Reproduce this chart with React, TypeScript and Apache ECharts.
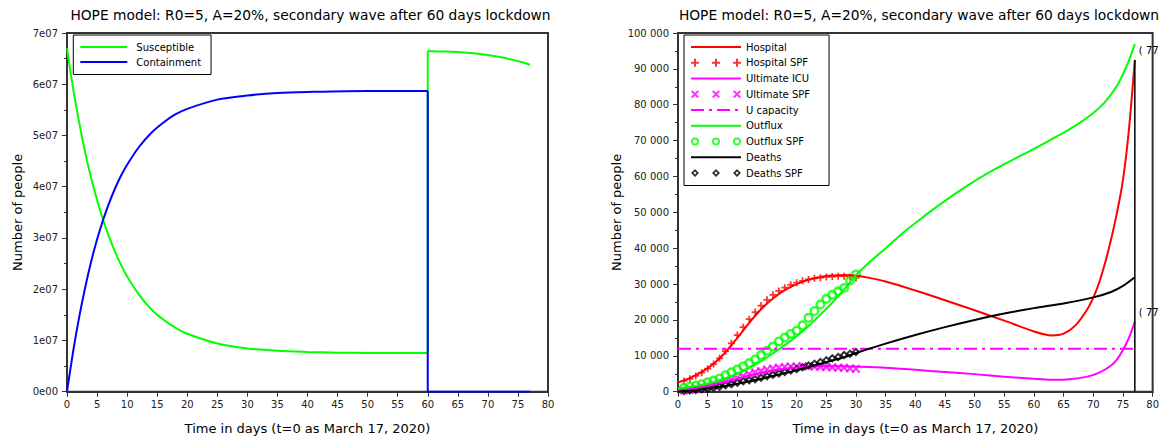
import React, { useEffect, useRef } from 'react';
import * as echarts from 'echarts';

const FONT = "'DejaVu Sans', sans-serif";
const TITLE = 'HOPE model: R0=5, A=20%, secondary wave after 60 days lockdown';
const X_NAME = 'Time in days (t=0 as March 17, 2020)';
const Y_NAME = 'Number of people';
const END_TIP = '( 77';

// ---------- left chart (values in millions of people) ----------
const susDaysA = [0, 1, 2, 3, 4, 5, 6, 7, 8, 9, 10, 12, 14, 16, 18, 20, 25, 30, 35, 40, 45, 50, 55, 60];
const susValsA = [67.0, 59.3, 52.7, 46.8, 41.8, 37.4, 33.5, 30.2, 27.3, 24.7, 22.5, 18.9, 16.1, 14.1, 12.5, 11.3, 9.4, 8.45, 7.98, 7.76, 7.62, 7.57, 7.55, 7.53];
const susDaysB = [60, 62, 64, 66, 68, 70, 72, 74, 76, 77];
const susValsB = [66.5, 66.4, 66.35, 66.2, 66.0, 65.7, 65.3, 64.8, 64.2, 63.8];
const conDaysA = [0, 1, 2, 3, 4, 5, 6, 7, 8, 9, 10, 12, 14, 16, 18, 20, 25, 30, 35, 40, 50, 60];
const conValsA = [0, 7.7, 14.4, 20.2, 25.3, 29.7, 33.5, 36.8, 39.7, 42.2, 44.3, 47.8, 50.5, 52.5, 54.1, 55.2, 57.0, 57.8, 58.3, 58.5, 58.7, 58.7];
const conDaysB = [60, 77];
const conValsB = [0, 0];
const switchDay = 60;

// ---------- right chart ----------
const hospDays = [0, 2, 4, 6, 8, 10, 12, 14, 16, 18, 20, 22, 24, 26, 28, 30, 32, 35, 40, 45, 50, 55, 60, 63, 65, 67, 69, 70, 71, 72, 73, 74, 75, 76, 77];
const hospVals = [2600, 3800, 5500, 7800, 11000, 15000, 19200, 23000, 26000, 28300, 30000, 31200, 32000, 32400, 32500, 32300, 31800, 30700, 28200, 25500, 22700, 19800, 16800, 15700, 16200, 18500, 23000, 26200, 30500, 36000, 42500, 50000, 59000, 73000, 92500];

const spfDays = [1, 2, 3, 4, 5, 6, 7, 8, 9, 10, 11, 12, 13, 14, 15, 16, 17, 18, 19, 20, 21, 22, 23, 24, 25, 26, 27, 28, 29, 30];
const hospSpf = [3000, 3600, 4400, 5300, 6400, 7700, 9300, 11300, 13500, 15800, 18000, 20200, 22200, 24000, 25600, 27000, 28100, 29000, 29800, 30400, 30900, 31300, 31600, 31800, 32000, 32100, 32200, 32200, 32000, 31700];

const icuDays = [0, 3, 6, 9, 12, 15, 18, 21, 24, 27, 30, 35, 40, 45, 50, 55, 60, 63, 66, 69, 71, 73, 74, 75, 76, 77];
const icuVals = [400, 1000, 2000, 3200, 4500, 5600, 6400, 6900, 7100, 7100, 7000, 6700, 6100, 5500, 4900, 4200, 3600, 3350, 3500, 4200, 5300, 7300, 9000, 11600, 15000, 19500];
const icuSpf = [300, 500, 800, 1100, 1500, 1900, 2400, 2900, 3400, 3900, 4400, 4900, 5400, 5800, 6200, 6500, 6700, 6900, 7000, 7000, 7100, 7000, 7000, 6900, 6900, 6800, 6700, 6700, 6500, 6400];

const capDays = [0, 77];
const capVals = [12000, 12000];

const outDays = [0, 2, 4, 6, 8, 10, 12, 14, 16, 18, 20, 22, 24, 26, 28, 30, 32, 35, 38, 41, 44, 48, 52, 56, 60, 64, 67, 70, 72, 74, 75, 76, 77];
const outVals = [900, 1300, 1900, 2700, 3800, 5000, 6600, 8500, 10700, 13000, 15500, 18300, 21500, 24800, 28500, 32500, 35700, 40000, 44400, 48300, 52000, 56600, 60700, 64300, 67700, 71300, 74200, 77700, 80800, 85300, 88500, 92300, 96900];
const outSpf = [1100, 1400, 1700, 2100, 2600, 3100, 3700, 4600, 5400, 6200, 7100, 8000, 9000, 10200, 11400, 12600, 14000, 15100, 16100, 17000, 18500, 20600, 22500, 24300, 25900, 27000, 28000, 28900, 31000, 32700];

const deathDays = [0, 2, 4, 6, 8, 10, 12, 14, 16, 18, 20, 22, 24, 26, 28, 30, 35, 40, 45, 50, 55, 60, 65, 70, 73, 75, 77];
const deathVals = [0, 300, 650, 1100, 1600, 2200, 2900, 3600, 4400, 5200, 6000, 6900, 7800, 8700, 9600, 10800, 13400, 15800, 18000, 20000, 21800, 23300, 24600, 26300, 27800, 29500, 31900];
const deathSpf = [200, 350, 500, 650, 850, 1100, 1400, 1800, 2100, 2500, 2900, 3200, 3500, 3900, 4300, 4700, 5100, 5500, 5900, 6300, 6800, 7300, 7800, 8300, 8800, 9300, 9700, 10200, 10600, 11100];

const zip = (xs: number[], ys: number[], k = 1) => xs.map((x, i) => [x, ys[i] * k]);

// symbol shapes
const PLUS = 'path://M3,0H5V3H8V5H5V8H3V5H0V3H3Z';
const CROSS = 'path://M0,1.4L1.4,0L4,2.6L6.6,0L8,1.4L5.4,4L8,6.6L6.6,8L4,5.4L1.4,8L0,6.6L2.6,4Z';
const RING = 'path://M0,4a4,4 0 1,0 8,0a4,4 0 1,0 -8,0Z M1.9,4a2.1,2.1 0 1,1 4.2,0a2.1,2.1 0 1,1 -4.2,0Z';
const DIAM = 'path://M4,0L8,4L4,8L0,4Z M4,2.5L2.5,4L4,5.5L5.5,4Z';
const tri = (f: (o: number) => string) => 'path://' + [0, 21, 42].map(f).join(' ');
const PLUS3 = tri(o => `M${o + 3},0H${o + 5}V3H${o + 8}V5H${o + 5}V8H${o + 3}V5H${o}V3H${o + 3}Z`);
const CROSS3 = tri(o => `M${o},1.4L${o + 1.4},0L${o + 4},2.6L${o + 6.6},0L${o + 8},1.4L${o + 5.4},4L${o + 8},6.6L${o + 6.6},8L${o + 4},5.4L${o + 1.4},8L${o},6.6L${o + 2.6},4Z`);
const RING3 = tri(o => `M${o},4a4,4 0 1,0 8,0a4,4 0 1,0 -8,0Z M${o + 1.9},4a2.1,2.1 0 1,1 4.2,0a2.1,2.1 0 1,1 -4.2,0Z`);
const DIAM3 = tri(o => `M${o + 4},0L${o + 8},4L${o + 4},8L${o},4Z M${o + 4},2.5L${o + 2.5},4L${o + 4},5.5L${o + 5.5},4Z`);

const AXIS_COLOR = '#333';

function makeAxes(gridIndex: number, yMax: number, yInterval: number, yFmt: (v: number) => string, yNameGap: number) {
  const x = {
    type: 'value', gridIndex, min: 0, max: 80, interval: 5,
    name: X_NAME, nameLocation: 'middle', nameGap: 30,
    nameTextStyle: { fontFamily: FONT, fontSize: 13, color: '#000' },
    axisLine: { show: true, onZero: false, lineStyle: { color: AXIS_COLOR, width: 2 } },
    axisTick: { show: true, length: 5, lineStyle: { color: AXIS_COLOR, width: 1 } },
    axisLabel: { fontFamily: FONT, fontSize: 10, color: '#222', margin: 8 },
    splitLine: { show: false },
  };
  const y = {
    type: 'value', gridIndex, min: 0, max: yMax, interval: yInterval,
    name: Y_NAME, nameLocation: 'middle', nameGap: yNameGap,
    nameTextStyle: { fontFamily: FONT, fontSize: 13, color: '#000' },
    axisLine: { show: true, onZero: false, lineStyle: { color: AXIS_COLOR, width: 2 } },
    axisTick: { show: true, length: 5, lineStyle: { color: AXIS_COLOR, width: 1 } },
    minorTick: { show: true, splitNumber: 2, length: 3, lineStyle: { color: AXIS_COLOR, width: 1 } },
    axisLabel: { fontFamily: FONT, fontSize: 10, color: '#222', margin: 9, formatter: yFmt },
    splitLine: { show: false },
  };
  return { x, y };
}

const leftFmt = (v: number) => (v === 0 ? '0e00' : `${Math.round(v / 1e7)}e07`);
const rightFmt = (v: number) => String(v).replace(/\B(?=(\d{3})+(?!\d))/g, ' ');

export default function App() {
  const ref = useRef<HTMLDivElement>(null);
  useEffect(() => {
    if (!ref.current) return;
    const chart = echarts.init(ref.current, undefined, { renderer: 'svg' });
    const L = makeAxes(0, 7e7, 1e7, leftFmt, 43);
    const R = makeAxes(1, 100000, 10000, rightFmt, 55);
    const line = (name: string, data: number[][], color: string, xi: number, extra: any = {}) => ({
      type: 'line', name, data, xAxisIndex: xi, yAxisIndex: xi,
      showSymbol: false, symbol: 'none', smooth: 0.3,
      lineStyle: { color, width: 2 }, itemStyle: { color },
      ...extra,
    });
    const marks = (name: string, vals: number[], color: string, symbol: string, size: number) => ({
      type: 'scatter', name, data: zip(spfDays, vals), xAxisIndex: 1, yAxisIndex: 1,
      symbol, symbolSize: size, itemStyle: { color, borderWidth: 0 },
    });
    const legendText = { fontFamily: FONT, fontSize: 10, color: '#000', lineHeight: 13 };
    const lineItem = (name: string) => ({ name, icon: 'inherit', itemStyle: { opacity: 0, color: 'rgba(0,0,0,0)', borderWidth: 0 } });
    const lastHosp = hospVals[hospVals.length - 1];
    const tipLabel = { show: true, formatter: END_TIP, fontFamily: FONT, fontSize: 10, color: '#000', distance: 4, offset: [0, -9] };
    const titleStyle = { fontFamily: FONT, fontSize: 13.8, fontWeight: 'normal', color: '#000' };

    chart.setOption({
      animation: false,
      backgroundColor: '#fff',
      title: [
        { text: TITLE, left: 305.5, top: 3, textAlign: 'center', textStyle: titleStyle },
        { text: TITLE, left: 914, top: 3, textAlign: 'center', textStyle: titleStyle },
      ],
      grid: [
        { left: 67, top: 33, width: 481, height: 358.7, show: true, borderColor: AXIS_COLOR, borderWidth: 2, backgroundColor: 'transparent' },
        { left: 678, top: 33, width: 479, height: 358.7, show: true, borderColor: AXIS_COLOR, borderWidth: 2, backgroundColor: 'transparent' },
      ],
      xAxis: [L.x, R.x],
      yAxis: [L.y, R.y],
      legend: [
        {
          data: [lineItem('Susceptible'), lineItem('Containment')],
          orient: 'vertical', left: 73.3, top: 35,
          itemWidth: 47, itemHeight: 8, itemGap: 2, padding: [5.5, 10, 6, 6],
          borderColor: '#000', borderWidth: 1, backgroundColor: '#fff',
          textStyle: { ...legendText, padding: [0, 0, 0, 4] }, itemStyle: { borderWidth: 0 },
        },
        {
          data: [
            lineItem('Hospital'),
            { name: 'Hospital SPF', icon: PLUS3 },
            lineItem('Ultimate ICU'),
            { name: 'Ultimate SPF', icon: CROSS3 },
            lineItem('U capacity'),
            lineItem('Outflux'),
            { name: 'Outflux SPF', icon: RING3 },
            lineItem('Deaths'),
            { name: 'Deaths SPF', icon: DIAM3 },
          ],
          orient: 'vertical', left: 684, top: 35,
          itemWidth: 50, itemHeight: 8, itemGap: 2.75, padding: [5.5, 19, 6, 6],
          borderColor: '#000', borderWidth: 1, backgroundColor: '#fff',
          textStyle: legendText, itemStyle: { borderWidth: 0 },
        },
      ],
      series: [
        line('Susceptible', zip(susDaysA, susValsA, 1e6), '#00ff00', 0),
        line('Susceptible', [[switchDay, susValsA[susValsA.length - 1] * 1e6], [switchDay, susValsB[0] * 1e6]], '#00ff00', 0, { smooth: false }),
        line('Susceptible', zip(susDaysB, susValsB, 1e6), '#00ff00', 0),
        line('Containment', zip(conDaysA, conValsA, 1e6), '#0000ff', 0),
        line('Containment', [[switchDay, conValsA[conValsA.length - 1] * 1e6], [switchDay, conValsB[0]]], '#0000ff', 0, { smooth: false }),
        line('Containment', zip(conDaysB, conValsB), '#0000ff', 0, { smooth: false }),

        line('Hospital', zip(hospDays, hospVals), '#ff0000', 1, { endLabel: tipLabel }),
        marks('Hospital SPF', hospSpf, '#ff0000', PLUS, 7),
        line('Ultimate ICU', zip(icuDays, icuVals), '#ff00ff', 1, { endLabel: tipLabel }),
        marks('Ultimate SPF', icuSpf, '#ff00ff', CROSS, 9),
        line('U capacity', zip(capDays, capVals), '#ff00ff', 1, { smooth: false, lineStyle: { color: '#ff00ff', width: 2, type: [13, 5, 3, 5] } }),
        line('Outflux', zip(outDays, outVals), '#00ff00', 1),
        marks('Outflux SPF', outSpf, '#00ff00', RING, 10),
        line('Deaths', zip(deathDays, deathVals), '#000000', 1),
        marks('Deaths SPF', deathSpf, '#000000', DIAM, 9),
        line('tip line', [[77, 0], [77, lastHosp]], '#000000', 1, { smooth: false, lineStyle: { color: '#000', width: 1.5 } }),
      ],
    });
    return () => chart.dispose();
  }, []);
  return <div ref={ref} style={{ position: 'absolute', left: 0, top: 0, width: 1162, height: 442 }} />;
}
